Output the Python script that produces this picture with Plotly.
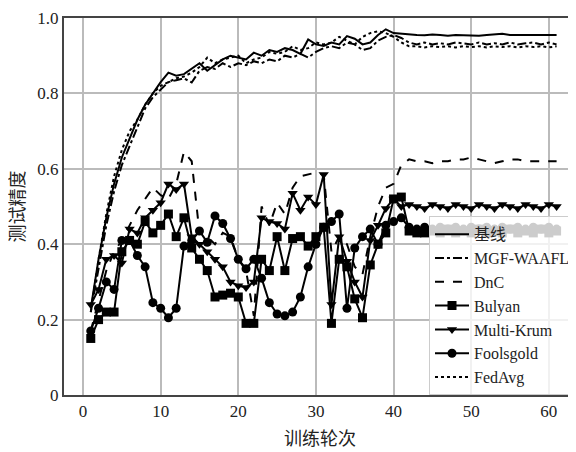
import plotly.graph_objects as go

rounds = list(range(1, 62))

baseline = [0.23, 0.36, 0.47, 0.56, 0.63, 0.68, 0.73, 0.77, 0.80, 0.83,
            0.855, 0.847, 0.851, 0.865, 0.88, 0.86, 0.875, 0.89, 0.90, 0.895,
            0.89, 0.908, 0.90, 0.915, 0.91, 0.92, 0.915, 0.905, 0.943, 0.93,
            0.926, 0.935, 0.93, 0.952, 0.945, 0.93, 0.935, 0.955, 0.97, 0.96,
            0.958, 0.955, 0.955, 0.954, 0.956, 0.955, 0.953, 0.955, 0.954, 0.955,
            0.953, 0.955, 0.956, 0.958, 0.955, 0.954, 0.955, 0.955, 0.954, 0.955, 0.955]
mgf = [0.22, 0.34, 0.45, 0.54, 0.61, 0.66, 0.71, 0.76, 0.79, 0.81,
       0.83, 0.835, 0.84, 0.829, 0.86, 0.87, 0.865, 0.88, 0.87, 0.88,
       0.875, 0.885, 0.88, 0.89, 0.885, 0.90, 0.895, 0.905, 0.895, 0.91,
       0.92, 0.925, 0.92, 0.935, 0.93, 0.915, 0.92, 0.94, 0.95, 0.955,
       0.947, 0.935, 0.93, 0.935, 0.93, 0.933, 0.93, 0.935, 0.932, 0.93,
       0.935, 0.93, 0.933, 0.93, 0.935, 0.93, 0.933, 0.935, 0.93, 0.935, 0.93]
dnc = [0.17, 0.25, 0.33, 0.38, 0.41, 0.45, 0.49, 0.52, 0.55, 0.53,
       0.52, 0.56, 0.645, 0.62, 0.43, 0.42, 0.40, 0.43, 0.42, 0.36,
       0.33, 0.21, 0.50, 0.45, 0.51, 0.48, 0.55, 0.58, 0.585, 0.59,
       0.585, 0.38, 0.42, 0.40, 0.34, 0.32, 0.42, 0.50, 0.55, 0.56,
       0.61, 0.625, 0.62, 0.62, 0.615, 0.62, 0.62, 0.625, 0.625, 0.63,
       0.625, 0.62, 0.615, 0.62, 0.625, 0.625, 0.62, 0.62, 0.62, 0.62, 0.62]
bulyan = [0.15, 0.20, 0.22, 0.22, 0.38, 0.41, 0.40, 0.46, 0.43, 0.45,
          0.48, 0.42, 0.47, 0.39, 0.36, 0.33, 0.26, 0.265, 0.27, 0.26,
          0.19, 0.19, 0.36, 0.33, 0.42, 0.33, 0.415, 0.42, 0.395, 0.42,
          0.445, 0.19, 0.36, 0.34, 0.255, 0.205, 0.345, 0.40, 0.43, 0.52,
          0.525, 0.435, 0.43, 0.43, 0.435, 0.43, 0.44, 0.43, 0.435, 0.43,
          0.44, 0.43, 0.435, 0.43, 0.44, 0.43, 0.435, 0.43, 0.44, 0.43, 0.435]
multikrum = [0.24, 0.28, 0.36, 0.37, 0.35, 0.44, 0.43, 0.47, 0.49, 0.51,
             0.56, 0.545, 0.56, 0.42, 0.40, 0.38, 0.36, 0.34, 0.30, 0.29,
             0.285, 0.30, 0.47, 0.46, 0.455, 0.44, 0.535, 0.49, 0.525, 0.505,
             0.585, 0.24, 0.42, 0.355, 0.30, 0.26, 0.41, 0.45, 0.495, 0.52,
             0.50, 0.505, 0.50, 0.495, 0.505, 0.50, 0.495, 0.505, 0.50, 0.495,
             0.505, 0.50, 0.495, 0.505, 0.50, 0.495, 0.505, 0.50, 0.495, 0.505, 0.50]
foolsgold = [0.17, 0.23, 0.30, 0.28, 0.41, 0.41, 0.37, 0.34, 0.245, 0.23,
             0.205, 0.23, 0.395, 0.41, 0.435, 0.405, 0.475, 0.455, 0.415, 0.36,
             0.335, 0.36, 0.31, 0.245, 0.215, 0.21, 0.22, 0.26, 0.34, 0.40,
             0.445, 0.46, 0.48, 0.23, 0.39, 0.42, 0.44, 0.40, 0.45, 0.46,
             0.47, 0.445, 0.44, 0.445, 0.44, 0.445, 0.44, 0.445, 0.44, 0.445,
             0.44, 0.445, 0.44, 0.445, 0.44, 0.445, 0.44, 0.445, 0.44, 0.445, 0.44]
fedavg = [0.22, 0.36, 0.48, 0.58, 0.65, 0.70, 0.73, 0.77, 0.80, 0.82,
          0.83, 0.84, 0.845, 0.855, 0.87, 0.895, 0.88, 0.89, 0.895, 0.90,
          0.88, 0.89, 0.895, 0.91, 0.905, 0.91, 0.925, 0.915, 0.92, 0.935,
          0.93, 0.935, 0.95, 0.94, 0.93, 0.95, 0.96, 0.965, 0.96, 0.95,
          0.935, 0.925, 0.925, 0.922, 0.925, 0.923, 0.925, 0.922, 0.925, 0.923,
          0.925, 0.922, 0.925, 0.923, 0.925, 0.922, 0.925, 0.923, 0.925, 0.922, 0.925]

x_ticks = [0, 10, 20, 30, 40, 50, 60]
y_ticks = [0, 0.2, 0.4, 0.6, 0.8, 1.0]
y_tick_text = ["0", "0.2", "0.4", "0.6", "0.8", "1.0"]

series = [
    ("基线", baseline, "solid", None),
    ("MGF-WAAFL", mgf, "dashdot", None),
    ("DnC", dnc, "dash", None),
    ("Bulyan", bulyan, "solid", "square"),
    ("Multi-Krum", multikrum, "solid", "triangle-down"),
    ("Foolsgold", foolsgold, "solid", "circle"),
    ("FedAvg", fedavg, "dot", None),
]

fig = go.Figure()
for name, vals, dash, sym in series:
    if sym:
        fig.add_trace(go.Scatter(x=rounds, y=vals, name=name, mode="lines+markers",
                                 line=dict(color="black", width=2, dash=dash),
                                 marker=dict(symbol=sym, size=9, color="black")))
    else:
        fig.add_trace(go.Scatter(x=rounds, y=vals, name=name, mode="lines",
                                 line=dict(color="black", width=2, dash=dash)))

serif = "Times New Roman, Liberation Serif, DejaVu Serif, Noto Sans CJK SC, serif"
fig.update_layout(
    width=568, height=444,
    margin=dict(l=56, r=0, t=10, b=57),
    plot_bgcolor="white", paper_bgcolor="white",
    font=dict(family=serif, size=17, color="#222"),
    showlegend=True,
    legend=dict(x=1.0, y=0.474, xanchor="right", yanchor="top",
                bgcolor="rgba(255,255,255,0.8)", bordercolor="#cccccc", borderwidth=1,
                font=dict(family=serif, size=16, color="#222"),
                itemwidth=34, tracegroupgap=0),
    xaxis=dict(range=[-2.45, 63.5], tickvals=x_ticks, showgrid=True, automargin=False,
               gridcolor="#bbbbbb", gridwidth=1.5, zeroline=False,
               showline=True, linecolor="#444", linewidth=2, mirror=True,
               ticks="", tickfont=dict(family=serif, size=17),
               title=dict(text="训练轮次", font=dict(family=serif, size=18), standoff=12)),
    yaxis=dict(range=[0, 1.0], tickvals=y_ticks, ticktext=y_tick_text, showgrid=True,
               automargin=False,
               gridcolor="#bbbbbb", gridwidth=1.5, zeroline=False,
               showline=True, linecolor="#444", linewidth=2, mirror=True,
               ticks="", tickfont=dict(family=serif, size=17),
               title=dict(text="测试精度", font=dict(family=serif, size=18), standoff=9)),
)

fig.write_html("out.html")
